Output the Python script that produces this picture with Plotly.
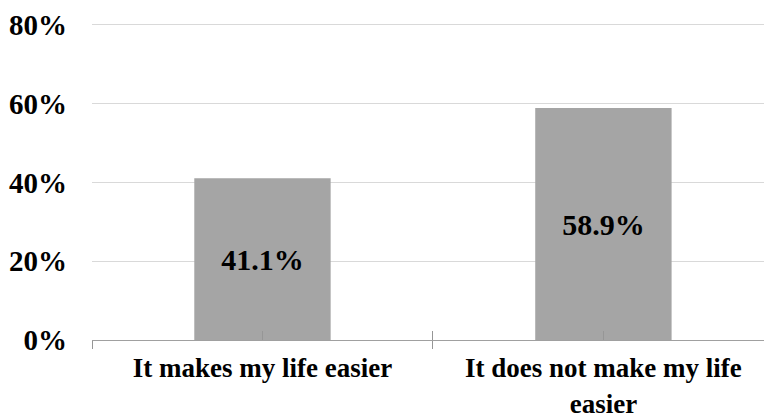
import plotly.graph_objects as go

categories = ["It makes my life easier", "It does not make my life<br>easier"]
shares = [41.1, 58.9]
y_ticks = [0, 20, 40, 60, 80]
y_tick_labels = ["0%", "20%", "40%", "60%", "80%"]

FONT = "Liberation Serif"
TICK_COLOR = "#969696"
positions = list(range(len(categories)))
x_range = [-0.5, 1.471]

fig = go.Figure()
fig.add_trace(
    go.Bar(
        x=positions,
        y=shares,
        width=0.4,
        marker=dict(color="#a5a5a5", line=dict(width=0)),
        texttemplate="<b>%{y:.1f}%</b>",
        textposition="inside",
        insidetextanchor="middle",
        textangle=0,
        textfont=dict(family=FONT, size=30, color="#000000"),
        hoverinfo="skip",
    )
)
# markerless companion trace so the overlaid tick axis gets drawn
fig.add_trace(
    go.Scatter(
        x=positions,
        y=shares,
        mode="none",
        xaxis="x2",
        hoverinfo="skip",
        showlegend=False,
    )
)

# category boundaries and centres for the tick marks
bounds = [p - 0.5 for p in positions] + [positions[-1] + 0.5]
all_marks = sorted(set(bounds + positions))

fig.update_layout(
    width=764,
    height=417,
    margin=dict(l=92, r=0, t=21, b=77),
    paper_bgcolor="#ffffff",
    plot_bgcolor="#ffffff",
    showlegend=False,
    xaxis=dict(
        range=x_range,
        tickmode="array",
        tickvals=positions,
        ticktext=["<b>" + c + "</b>" for c in categories],
        ticks="",
        minor=dict(tickmode="array", tickvals=bounds, ticks="outside",
                   ticklen=8, tickcolor=TICK_COLOR, tickwidth=1),
        showline=True,
        linecolor="#a0a0a0",
        linewidth=1,
        showgrid=False,
        zeroline=False,
        automargin=False,
        ticklabelstandoff=4,
        tickfont=dict(family=FONT, size=27, color="#000000"),
    ),
    # upward marks at every boundary and centre, drawn on an overlaid axis
    xaxis2=dict(
        overlaying="x",
        side="bottom",
        anchor="y",
        range=x_range,
        tickmode="array",
        tickvals=all_marks,
        ticks="inside",
        ticklen=9,
        tickcolor=TICK_COLOR,
        tickwidth=1,
        showticklabels=False,
        showline=False,
        showgrid=False,
        zeroline=False,
        automargin=False,
    ),
    yaxis=dict(
        range=[0, 81],
        tickmode="array",
        tickvals=y_ticks,
        ticktext=["<b>" + t + "</b>" for t in y_tick_labels],
        showgrid=True,
        gridcolor="#d9d9d9",
        gridwidth=1,
        zeroline=False,
        showline=False,
        ticks="",
        automargin=False,
        ticklabelstandoff=24,
        tickfont=dict(family=FONT, size=29, color="#000000"),
    ),
)

fig.write_html("out.html")
